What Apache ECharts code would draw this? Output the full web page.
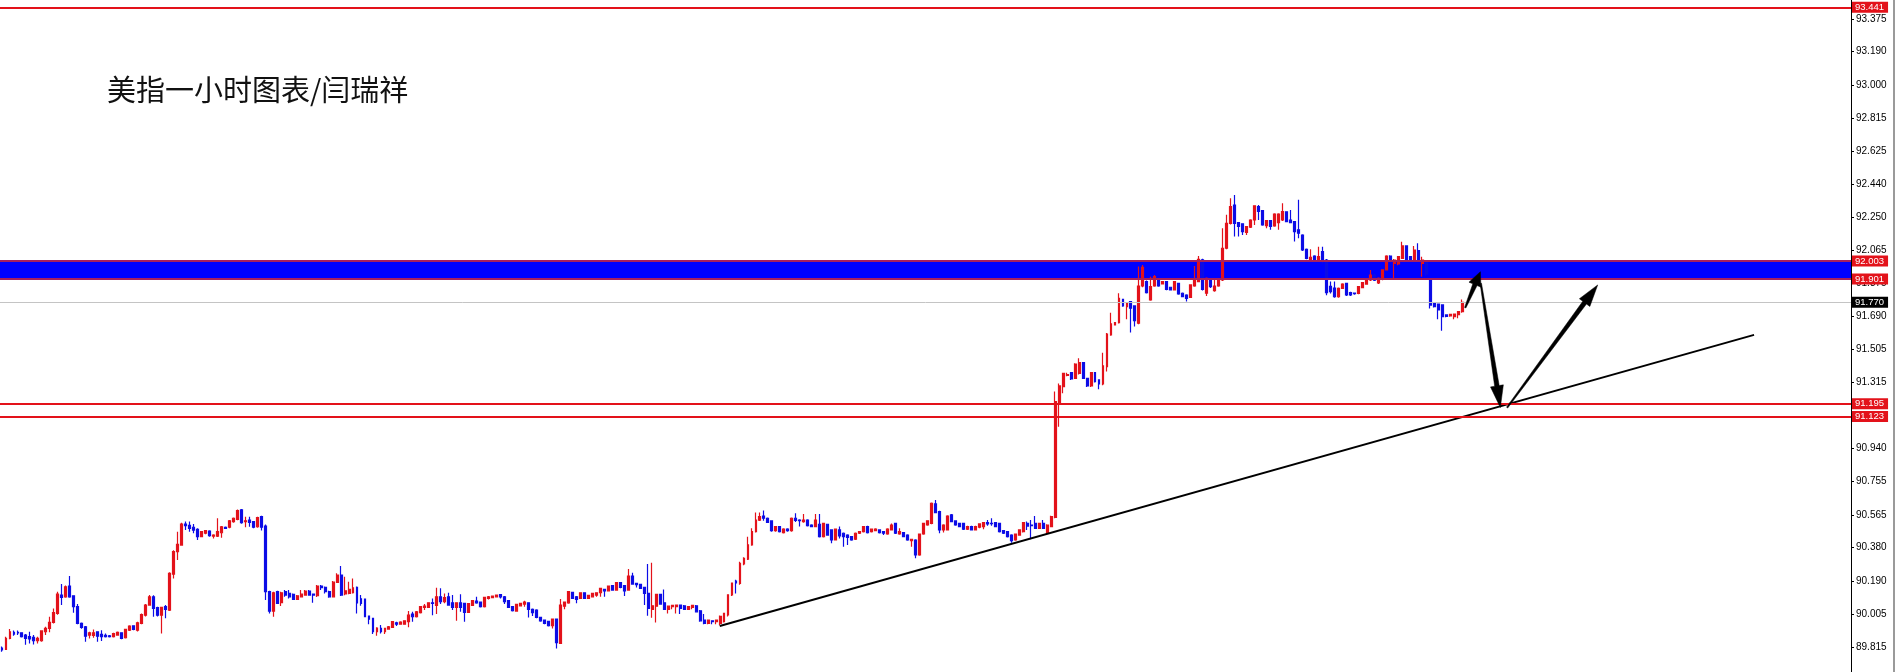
<!DOCTYPE html>
<html>
<head>
<meta charset="utf-8">
<script src="https://cdn.jsdelivr.net/npm/echarts/dist/echarts.min.js"></script>
<style>
html,body{margin:0;padding:0;background:#fff;}
#chart{width:1898px;height:672px;}
</style>
</head>
<body>
<div id="chart"></div>
<script>
// ---- data: hourly candles [open, close, low, high] ----
const candles = [
[89.81,89.80,89.79,89.82],[89.803,89.865,89.80,89.875],[89.865,89.903,89.86,89.918],[89.90,89.89,89.88,89.91],
[89.90,89.896,89.884,89.91],[89.897,89.875,89.87,89.90],[89.884,89.865,89.83,89.89],[89.875,89.862,89.837,89.903],
[89.871,89.852,89.831,89.884],[89.852,89.865,89.837,89.875],[89.852,89.908,89.846,89.912],[89.903,89.922,89.884,89.931],
[89.922,89.956,89.90,89.988],[89.956,90.011,89.95,90.035],[90.007,90.116,90.0,90.13],[90.111,90.098,90.054,90.173],
[90.101,90.158,90.095,90.165],[90.162,90.101,90.095,90.219],[90.107,90.045,90.011,90.11],[90.045,89.95,89.945,90.06],
[89.95,89.928,89.92,89.955],[89.931,89.878,89.846,89.935],[89.884,89.897,89.865,89.903],[89.882,89.897,89.869,89.916],
[89.903,89.878,89.846,89.906],[89.888,89.875,89.85,89.912],[89.882,89.875,89.871,89.893],[89.88,89.875,89.87,89.884],
[89.875,89.893,89.87,89.897],[89.884,89.899,89.88,89.905],[89.897,89.865,89.86,89.90],[89.869,89.916,89.865,89.92],
[89.912,89.935,89.908,89.94],[89.937,89.916,89.912,89.94],[89.912,89.954,89.905,89.96],[89.95,90.0,89.945,90.007],
[89.997,90.054,89.99,90.06],[90.054,90.101,90.05,90.111],[90.101,90.035,89.988,90.11],[90.04,89.997,89.99,90.045],
[89.997,90.041,89.893,90.045],[90.045,90.03,89.979,90.055],[90.026,90.234,90.02,90.24],[90.23,90.357,90.205,90.365],
[90.357,90.398,90.309,90.47],[90.394,90.513,90.39,90.52],[90.513,90.504,90.479,90.527],[90.506,90.489,90.47,90.527],
[90.495,90.479,90.461,90.513],[90.483,90.442,90.423,90.49],[90.442,90.47,90.438,90.474],[90.461,90.476,90.455,90.48],
[90.474,90.447,90.442,90.478],[90.445,90.451,90.432,90.455],[90.445,90.47,90.44,90.546],[90.464,90.498,90.436,90.502],
[90.494,90.489,90.485,90.50],[90.495,90.532,90.49,90.536],[90.527,90.546,90.52,90.55],[90.54,90.589,90.535,90.595],
[90.593,90.521,90.515,90.598],[90.527,90.532,90.495,90.555],[90.536,90.523,90.498,90.555],[90.527,90.495,90.49,90.53],
[90.498,90.55,90.492,90.555],[90.555,90.495,90.476,90.56],[90.502,90.13,90.083,90.51],[90.13,90.02,90.007,90.135],
[90.02,90.124,89.988,90.13],[90.13,90.064,90.06,90.135],[90.068,90.124,90.049,90.13],[90.13,90.111,90.101,90.139],
[90.12,90.101,90.092,90.139],[90.115,90.087,90.083,90.12],[90.087,90.107,90.083,90.111],[90.101,90.116,90.098,90.139],
[90.111,90.134,90.107,90.14],[90.134,90.111,90.107,90.14],[90.116,90.111,90.068,90.12],[90.107,90.162,90.10,90.168],
[90.162,90.153,90.139,90.168],[90.155,90.13,90.12,90.16],[90.13,90.101,90.095,90.135],[90.101,90.184,90.098,90.19],
[90.183,90.224,90.18,90.234],[90.224,90.111,90.105,90.275],[90.117,90.135,90.11,90.215],[90.12,90.143,90.115,90.186],
[90.124,90.152,90.12,90.205],[90.154,90.067,90.007,90.16],[90.09,90.064,90.05,90.111],[90.088,89.988,89.985,90.09],
[89.992,89.975,89.946,89.995],[89.979,89.903,89.89,89.98],[89.903,89.924,89.88,89.928],[89.922,89.903,89.893,89.941],
[89.903,89.922,89.89,89.925],[89.918,89.931,89.915,89.935],[89.928,89.96,89.925,89.964],[89.954,89.946,89.935,89.96],
[89.946,89.958,89.943,89.962],[89.946,89.965,89.942,89.968],[89.96,89.997,89.928,90.02],[90.003,89.988,89.96,90.016],
[89.988,90.016,89.984,90.02],[90.011,90.045,90.007,90.048],[90.041,90.048,90.026,90.06],[90.041,90.067,90.037,90.07],
[90.067,90.064,89.997,90.092],[90.052,90.101,90.003,90.152],[90.101,90.073,90.06,90.149],[90.073,90.096,90.064,90.12],
[90.101,90.054,90.05,90.124],[90.067,90.041,90.026,90.111],[90.041,90.067,89.965,90.07],[90.067,90.041,90.016,90.115],
[90.064,90.013,89.96,90.067],[90.013,90.062,90.01,90.065],[90.052,90.079,90.05,90.082],[90.077,90.067,90.062,90.101],
[90.071,90.045,90.04,90.075],[90.045,90.098,90.041,90.10],[90.092,90.101,90.086,90.105],[90.096,90.105,90.093,90.108],
[90.101,90.111,90.098,90.114],[90.113,90.101,90.092,90.117],[90.101,90.073,90.06,90.105],[90.079,90.041,90.037,90.083],
[90.045,90.022,90.018,90.048],[90.02,90.058,90.016,90.06],[90.05,90.064,90.047,90.067],[90.06,90.071,90.045,90.079],
[90.067,90.03,89.984,90.07],[90.03,90.011,89.992,90.035],[90.026,89.984,89.98,90.03],[89.984,89.965,89.96,89.988],
[89.969,89.95,89.946,89.972],[89.962,89.937,89.933,89.965],[89.937,89.975,89.922,89.978],[89.975,89.841,89.808,89.978],
[89.837,90.054,89.833,90.088],[90.048,90.071,90.03,90.075],[90.067,90.13,90.062,90.133],[90.126,90.092,90.088,90.13],
[90.101,90.086,90.064,90.105],[90.092,90.124,90.088,90.127],[90.124,90.092,90.088,90.127],[90.092,90.109,90.088,90.112],
[90.101,90.12,90.097,90.123],[90.111,90.124,90.101,90.127],[90.124,90.149,90.101,90.152],[90.143,90.135,90.101,90.146],
[90.135,90.162,90.132,90.165],[90.164,90.139,90.135,90.167],[90.139,90.181,90.135,90.185],[90.181,90.154,90.15,90.184],
[90.164,90.135,90.105,90.167],[90.139,90.219,90.135,90.258],[90.219,90.173,90.17,90.237],[90.177,90.17,90.154,90.18],
[90.171,90.149,90.145,90.175],[90.154,90.12,90.054,90.157],[90.12,90.035,89.994,90.287],[90.03,90.05,89.982,90.294],
[90.048,90.115,89.956,90.118],[90.115,90.06,90.056,90.118],[90.067,90.03,90.026,90.143],[90.03,90.048,90.007,90.052],
[90.045,90.052,90.03,90.056],[90.045,90.054,90.007,90.057],[90.054,90.035,90.003,90.058],[90.05,90.03,90.026,90.054],
[90.03,90.045,90.026,90.048],[90.041,90.052,90.03,90.055],[90.05,90.016,90.012,90.054],[90.022,89.965,89.96,90.026],
[89.969,89.95,89.946,90.003],[89.95,89.969,89.946,89.972],[89.965,89.96,89.946,89.968],[89.96,89.969,89.946,89.972],
[89.95,89.99,89.94,89.995],[89.96,90.008,89.955,90.01],[89.998,90.112,89.99,90.115],[90.112,90.178,90.105,90.18],
[90.19,90.18,90.12,90.197],[90.177,90.291,90.17,90.30],[90.287,90.319,90.28,90.325],[90.314,90.395,90.31,90.442],
[90.395,90.47,90.39,90.489],[90.47,90.536,90.465,90.578],[90.536,90.555,90.53,90.578],[90.559,90.546,90.532,90.59],
[90.546,90.523,90.52,90.55],[90.531,90.476,90.47,90.535],[90.476,90.499,90.47,90.502],[90.499,90.47,90.465,90.502],
[90.465,90.484,90.46,90.49],[90.484,90.476,90.47,90.49],[90.476,90.546,90.47,90.55],[90.546,90.534,90.525,90.574],
[90.536,90.532,90.499,90.54],[90.527,90.536,90.52,90.57],[90.536,90.504,90.5,90.54],[90.508,90.499,90.495,90.512],
[90.499,90.536,90.495,90.57],[90.512,90.442,90.437,90.57],[90.442,90.517,90.437,90.52],[90.512,90.451,90.447,90.515],
[90.48,90.423,90.404,90.484],[90.423,90.484,90.42,90.488],[90.48,90.446,90.432,90.499],[90.461,90.442,90.385,90.465],
[90.451,90.438,90.395,90.455],[90.442,90.423,90.418,90.446],[90.427,90.461,90.423,90.465],[90.461,90.47,90.457,90.474],
[90.47,90.499,90.466,90.502],[90.499,90.465,90.46,90.503],[90.47,90.484,90.465,90.488],[90.476,90.484,90.472,90.49],
[90.48,90.465,90.46,90.484],[90.47,90.461,90.451,90.474],[90.457,90.484,90.453,90.49],[90.48,90.508,90.476,90.517],
[90.517,90.461,90.457,90.52],[90.457,90.47,90.453,90.489],[90.465,90.442,90.438,90.468],[90.451,90.423,90.418,90.455],
[90.419,90.427,90.385,90.43],[90.423,90.338,90.319,90.427],[90.338,90.457,90.333,90.46],[90.457,90.517,90.453,90.52],
[90.508,90.532,90.504,90.535],[90.517,90.631,90.512,90.635],[90.627,90.578,90.574,90.65],[90.584,90.48,90.461,90.588],
[90.48,90.508,90.465,90.512],[90.48,90.559,90.476,90.563],[90.565,90.527,90.523,90.57],[90.531,90.508,90.504,90.535],
[90.517,90.499,90.495,90.52],[90.517,90.484,90.48,90.52],[90.484,90.499,90.48,90.503],[90.499,90.48,90.476,90.503],
[90.48,90.499,90.476,90.503],[90.495,90.514,90.49,90.517],[90.499,90.521,90.484,90.525],[90.521,90.514,90.504,90.536],
[90.517,90.515,90.504,90.546],[90.521,90.499,90.495,90.525],[90.517,90.47,90.465,90.52],[90.476,90.461,90.457,90.48],
[90.47,90.442,90.437,90.474],[90.451,90.419,90.408,90.455],[90.423,90.457,90.419,90.46],[90.451,90.48,90.447,90.484],
[90.47,90.521,90.466,90.525],[90.517,90.502,90.48,90.527],[90.508,90.504,90.427,90.536],[90.517,90.489,90.485,90.559],
[90.489,90.517,90.485,90.52],[90.517,90.489,90.485,90.536],[90.461,90.508,90.455,90.512],[90.499,90.555,90.495,90.56],
[90.551,91.207,90.546,91.264],[91.20,91.296,91.065,91.31],[91.292,91.367,91.254,91.37],[91.356,91.36,91.35,91.37],
[91.371,91.335,91.33,91.375],[91.339,91.42,91.335,91.425],[91.367,91.428,91.36,91.452],[91.428,91.339,91.335,91.432],
[91.339,91.296,91.29,91.342],[91.296,91.371,91.29,91.375],[91.371,91.32,91.315,91.375],[91.33,91.307,91.277,91.333],
[91.307,91.409,91.30,91.484],[91.405,91.59,91.377,91.595],[91.585,91.647,91.58,91.711],[91.641,91.655,91.638,91.658],
[91.655,91.792,91.65,91.821],[91.787,91.749,91.745,91.79],[91.745,91.768,91.673,91.772],[91.774,91.736,91.598,91.777],
[91.749,91.666,91.632,91.753],[91.651,91.862,91.645,91.972],[91.862,91.968,91.855,91.981],[91.887,91.825,91.82,91.893],
[91.783,91.858,91.778,91.915],[91.862,91.915,91.858,91.925],[91.893,91.862,91.858,91.897],[91.874,91.887,91.87,91.89],
[91.887,91.843,91.838,91.89],[91.855,91.84,91.836,91.858],[91.84,91.887,91.836,91.89],[91.877,91.817,91.812,91.88],
[91.821,91.802,91.798,91.825],[91.811,91.792,91.774,91.815],[91.798,91.868,91.794,91.872],[91.862,91.896,91.858,91.976],
[91.887,92.013,91.883,92.032],[92.01,91.843,91.836,92.016],[91.821,91.906,91.806,91.91],[91.896,91.858,91.85,91.90],
[91.836,91.862,91.83,91.906],[91.862,91.896,91.858,91.90],[91.896,92.076,91.89,92.189],[92.076,92.217,92.07,92.265],
[92.217,92.312,92.21,92.359],[92.321,92.217,92.142,92.378],[92.221,92.199,92.142,92.225],[92.214,92.17,92.151,92.217],
[92.165,92.199,92.151,92.202],[92.195,92.236,92.19,92.24],[92.236,92.316,92.208,92.32],[92.312,92.284,92.236,92.321],
[92.289,92.208,92.204,92.293],[92.204,92.233,92.189,92.236],[92.233,92.199,92.18,92.236],[92.202,92.27,92.198,92.274],
[92.221,92.27,92.18,92.274],[92.236,92.284,92.23,92.331],[92.282,92.227,92.223,92.285],[92.236,92.221,92.217,92.293],
[92.227,92.17,92.114,92.23],[92.18,92.161,92.132,92.35],[92.151,92.066,92.06,92.155],[92.07,92.019,92.013,92.074],
[92.01,92.025,92.006,92.07],[92.032,92.013,92.008,92.036],[92.013,92.029,92.008,92.085],[92.057,92.006,91.99,92.085],
[92.009,91.824,91.81,92.015],[91.86,91.83,91.82,91.887],[91.85,91.801,91.795,91.887],[91.801,91.849,91.795,91.853],
[91.849,91.873,91.845,91.877],[91.877,91.811,91.805,91.88],[91.824,91.811,91.805,91.83],[91.822,91.818,91.812,91.825],
[91.82,91.858,91.815,91.862],[91.853,91.881,91.85,91.885],[91.873,91.896,91.87,91.90],[91.896,91.924,91.89,91.953],
[91.924,91.895,91.89,91.93],[91.88,91.905,91.873,91.91],[91.90,91.953,91.895,91.957],[91.953,92.032,91.95,92.036],
[92.032,92.009,92.0,92.036],[91.99,92.009,91.905,92.015],[91.987,92.028,91.98,92.032],[92.019,92.089,92.015,92.113],
[92.089,92.009,92.005,92.093],[92.028,92.009,92.005,92.032],[92.009,92.066,92.005,92.089],[92.062,92.009,92.005,92.104],
[91.99,92.009,91.915,92.028],[92.0,91.93,91.92,92.005],[91.896,91.754,91.735,91.90],[91.767,91.745,91.74,91.77],
[91.76,91.726,91.673,91.763],[91.755,91.688,91.609,91.758],[91.698,91.69,91.685,91.70],[91.692,91.701,91.688,91.705],
[91.688,91.703,91.673,91.706],[91.70,91.717,91.679,91.72],[91.717,91.77,91.71,91.786]
];

// y-axis tick labels (as printed on the price scale)
const tickValues = [93.375,93.190,93.000,92.815,92.625,92.440,92.250,92.065,91.875,91.690,91.505,
  91.315,91.125,90.940,90.755,90.565,90.380,90.190,90.005,89.815];

// horizontal price levels
const redLevels = [93.441, 91.195, 91.123];
const bandLevels = [91.901, 92.003];
const currentPrice = 91.770;

// trend line [barIndex, price]
const trendLine = [[179.93, 89.936], [439.2, 91.585]];

// arrows [fromBar, fromPrice, toBar, toPrice]
const arrows = [
  [366.8, 91.739, 370.6, 91.943],
  [370.7, 91.877, 375.6, 91.173],
  [377.3, 91.173, 400.0, 91.868]
];

const TOTAL_SLOTS = 464;
const categories = [];
for (let i = 0; i < TOTAL_SLOTS; i++) categories.push('h' + i);

const RED = '#e3121a', BLUE = '#0c0ce6';
const FONT = 'Liberation Sans, Arial, sans-serif';

const labelBase = {
  show: true, position: 'end', distance: 1,
  color: '#fff', fontSize: 9.5, fontFamily: FONT,
  padding: [1, 4, 0, 3], lineHeight: 10,
  formatter: p => Number(p.value).toFixed(3)
};

const markLines = [];
redLevels.forEach(v => markLines.push({
  yAxis: v, lineStyle: {color: RED, width: 2, type: 'solid'},
  label: Object.assign({}, labelBase, {backgroundColor: RED})
}));
bandLevels.forEach(v => markLines.push({
  yAxis: v, lineStyle: {color: '#a8205e', width: 2, type: 'solid'},
  label: Object.assign({}, labelBase, {backgroundColor: RED})
}));
markLines.push({
  yAxis: currentPrice, lineStyle: {color: '#c4c4c4', width: 1, type: 'solid'},
  label: Object.assign({}, labelBase, {backgroundColor: '#000'})
});

const chart = echarts.init(document.getElementById('chart'), null, {renderer: 'canvas'});

chart.setOption({
  animation: false,
  backgroundColor: '#fff',
  title: {
    text: '美指一小时图表/闫瑞祥',
    left: 102, top: 70,
    textStyle: {fontFamily: 'Noto Sans CJK SC', fontSize: 29, fontWeight: 'normal', color: '#111'}
  },
  grid: {left: -1.3, right: 47, top: 0, bottom: 0, containLabel: false},
  xAxis: [
    {type: 'category', data: categories, show: false, boundaryGap: true},
    {type: 'value', min: -0.5, max: TOTAL_SLOTS - 0.5, show: false}
  ],
  yAxis: {
    type: 'value', position: 'right', min: 89.675, max: 93.4824, scale: true,
    splitLine: {show: false},
    axisLine: {show: true, onZero: false, lineStyle: {color: '#000', width: 1}},
    axisTick: {show: true, length: 3, inside: false, customValues: tickValues, lineStyle: {color: '#000'}},
    axisLabel: {
      show: true, margin: 5, customValues: tickValues,
      fontSize: 10, fontFamily: FONT, color: '#000',
      formatter: v => Number(v).toFixed(3)
    }
  },
  graphic: [{
    type: 'rect', right: 3, top: 0, shape: {width: 2, height: 672},
    style: {fill: '#9a9a9a'}, silent: true
  }],
  series: [
    {
      name: 'levels', type: 'line', data: [], z: 1, silent: true,
      markArea: {
        silent: true,
        itemStyle: {color: '#0000ff', opacity: 1},
        data: [[{yAxis: bandLevels[0]}, {yAxis: bandLevels[1]}]]
      },
      markLine: {silent: true, precision: 3, symbol: ['none', 'none'], animation: false, data: markLines}
    },
    {
      name: 'USDX H1', type: 'candlestick', data: candles, z: 3,
      barWidth: 2.4,
      itemStyle: {color: RED, color0: BLUE, borderColor: RED, borderColor0: BLUE, borderWidth: 1.2}
    },
    {
      name: 'trend', type: 'line', xAxisIndex: 1, data: trendLine, z: 4,
      symbol: 'none', silent: true, lineStyle: {color: '#000', width: 2}
    },
    {
      name: 'arrows', type: 'custom', xAxisIndex: 1, data: arrows, z: 5, silent: true,
      encode: {x: [0, 2], y: [1, 3]},
      renderItem: function (params, api) {
        const p1 = api.coord([api.value(0), api.value(1)]);
        const p2 = api.coord([api.value(2), api.value(3)]);
        const dx = p2[0] - p1[0], dy = p2[1] - p1[1];
        const len = Math.hypot(dx, dy);
        const ux = dx / len, uy = dy / len, nx = -uy, ny = ux;
        const head = Math.min(22, len * 0.36), hw = 6.5, sw0 = 0.7, sw1 = 2.3;
        const bx = p2[0] - ux * head, by = p2[1] - uy * head;
        const pts = [
          [p1[0] + nx * sw0, p1[1] + ny * sw0],
          [bx + nx * sw1, by + ny * sw1],
          [bx + nx * hw, by + ny * hw],
          [p2[0], p2[1]],
          [bx - nx * hw, by - ny * hw],
          [bx - nx * sw1, by - ny * sw1],
          [p1[0] - nx * sw0, p1[1] - ny * sw0]
        ];
        return {type: 'polygon', shape: {points: pts}, style: {fill: '#000', stroke: '#000', lineWidth: 0.5}};
      }
    }
  ]
});
</script>
</body>
</html>
